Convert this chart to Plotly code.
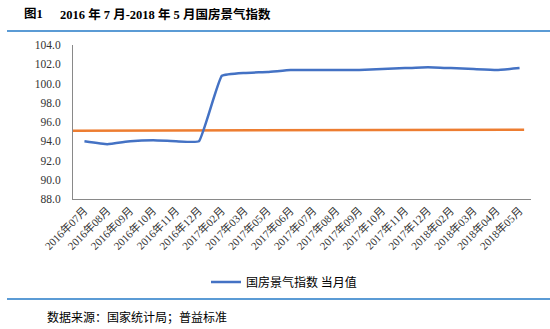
import plotly.graph_objects as go

categories = ["2016年07月", "2016年08月", "2016年09月", "2016年10月", "2016年11月", "2016年12月",
              "2017年02月", "2017年03月", "2017年05月", "2017年06月", "2017年07月", "2017年08月",
              "2017年09月", "2017年10月", "2017年11月", "2017年12月", "2018年02月", "2018年03月",
              "2018年04月", "2018年05月"]
index_values = [94.0, 93.7, 94.0, 94.1, 94.0, 94.0,
                100.8, 101.1, 101.2, 101.4, 101.4, 101.4,
                101.4, 101.5, 101.6, 101.7, 101.6, 101.5,
                101.4, 101.6]
# orange reference line (spans the plot, slight upward drift)
ref_x = [-0.5, 19.2]
ref_y = [95.1, 95.2]
y_ticks = [88, 90, 92, 94, 96, 98, 100, 102, 104]

series_name = "国房景气指数 当月值"
title_no = "图1"
title_text = "2016 年 7 月-2018 年 5 月国房景气指数"
source_text = "数据来源：国家统计局；普益标准"

W, H = 550, 329
L, R, T, B = 73, 19, 45, 130
pw, ph = W - L - R, H - T - B

def px(x):
    return (x - L) / pw

def py(y):
    return (H - B - y) / ph

fig = go.Figure()
fig.add_trace(go.Scatter(x=ref_x, y=ref_y, mode="lines",
                         line=dict(color="#ED7D31", width=2.5),
                         showlegend=False, hoverinfo="skip"))
fig.add_trace(go.Scatter(x=list(range(len(categories))), y=index_values, mode="lines",
                         name=series_name, line=dict(color="#4472C4", width=2.5, shape="spline", smoothing=0.3)))

fig.update_layout(
    width=W, height=H,
    margin=dict(l=L, r=R, t=T, b=B),
    paper_bgcolor="white", plot_bgcolor="white",
    font=dict(family="Liberation Serif, Noto Sans CJK SC", color="#000000"),
    showlegend=True,
    legend=dict(orientation="h", x=px(284), xanchor="center", y=py(282), yanchor="middle",
                font=dict(family="Noto Sans CJK SC", size=12, color="#000"),
                itemwidth=30, bgcolor="rgba(0,0,0,0)"),
    xaxis=dict(range=[-0.5, 19.5], tickmode="array",
               tickvals=list(range(len(categories))), ticktext=categories,
               tickangle=-45, tickfont=dict(size=11, family="Liberation Serif, Noto Sans CJK SC", color="#333333"),
               showgrid=False, zeroline=False, showline=True, linecolor="#898989", linewidth=1,
               ticks="", fixedrange=True),
    yaxis=dict(range=[88, 104], tickmode="array", tickvals=y_ticks,
               ticktext=[f"{v:.1f}" for v in y_ticks],
               tickfont=dict(size=11.5, family="Liberation Serif", color="#333333"),
               showgrid=False, zeroline=False, showline=True, linecolor="#898989", linewidth=1,
               ticks="", ticklabelstandoff=9),
    shapes=[
        dict(type="line", xref="paper", yref="paper", x0=px(7), x1=px(550), y0=py(31), y1=py(31),
             line=dict(color="#5B9BD5", width=2)),
        dict(type="line", xref="paper", yref="paper", x0=px(7), x1=px(550), y0=py(299), y1=py(299),
             line=dict(color="#5B9BD5", width=2)),
    ],
    annotations=[
        dict(text="<b>" + title_no + "</b>", xref="paper", yref="paper", x=px(22), y=py(14),
             xanchor="left", yanchor="middle", showarrow=False,
             font=dict(family="Liberation Serif, Noto Sans CJK SC", size=12.5, color="#000")),
        dict(text="<b>" + title_text + "</b>", xref="paper", yref="paper", x=px(58), y=py(14),
             xanchor="left", yanchor="middle", showarrow=False,
             font=dict(family="Liberation Serif, Noto Sans CJK SC", size=12.5, color="#000")),
        dict(text=source_text, xref="paper", yref="paper", x=px(45), y=py(316),
             xanchor="left", yanchor="middle", showarrow=False,
             font=dict(family="Noto Sans CJK SC", size=12, color="#000")),
    ],
)

fig.write_html("out.html")
